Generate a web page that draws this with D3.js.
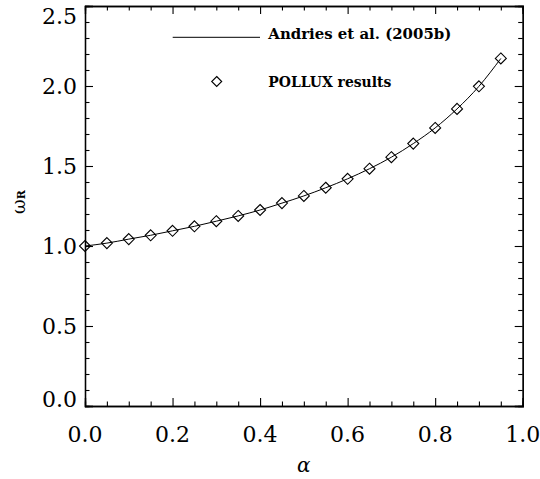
<!DOCTYPE html>
<html>
<head>
<meta charset="utf-8">
<script src="https://cdn.jsdelivr.net/npm/d3@7"></script>
<style>
  body { margin: 0; background: #fff; }
  svg { display: block; }
  .tick-label { font-family: "DejaVu Serif", serif; font-size: 22px; fill: #000; }
  .legend-text { font-family: "DejaVu Serif", serif; font-size: 14px; font-weight: bold; fill: #000; }
</style>
</head>
<body>
<svg id="chart"></svg>
<script>
/* ---------- Data ---------- */
const alphaValues = [0.00, 0.05, 0.10, 0.15, 0.20, 0.25, 0.30, 0.35, 0.40, 0.45,
                     0.50, 0.55, 0.60, 0.65, 0.70, 0.75, 0.80, 0.85, 0.90, 0.95];
const polluxOmega = [1.000, 1.018, 1.043, 1.067, 1.095, 1.123, 1.155, 1.188, 1.225, 1.268,
                     1.313, 1.364, 1.420, 1.483, 1.555, 1.640, 1.738, 1.857, 1.998, 2.172];
const andriesOmega = polluxOmega.slice();
const xTicks = [0, 0.2, 0.4, 0.6, 0.8, 1.0];
const yTicks = [0, 0.5, 1.0, 1.5, 2.0, 2.5];
const legendLabels = ["Andries et al. (2005b)", "POLLUX results"];

/* ---------- Layout ---------- */
const W = 540, H = 479;
const plot = {left: 85, right: 522.7, top: 6, bottom: 406};

const svg = d3.select("#chart").attr("width", W).attr("height", H);
svg.append("rect").attr("width", W).attr("height", H).attr("fill", "#fff");

const x = d3.scaleLinear().domain([0, 1]).range([plot.left, plot.right]);
const y = d3.scaleLinear().domain([0, 2.5]).range([plot.bottom, plot.top]);

const xMinor = d3.range(0, 21).map(i => i * 0.05).filter(v => !xTicks.some(t => Math.abs(t - v) < 1e-6));
const yMinor = d3.range(0, 26).map(i => i * 0.1).filter(v => !yTicks.some(t => Math.abs(t - v) < 1e-6));

// draws one side of the box: major + minor ticks pointing inward
function side(axisFn, transform, scale, majors, minors) {
    const g = svg.append("g").attr("transform", transform);
    g.append("g").call(axisFn(scale).tickValues(minors).tickSize(-4.5).tickFormat(""));
    g.append("g").call(axisFn(scale).tickValues(majors).tickSize(-8).tickFormat(""));
    g.selectAll("path.domain").attr("stroke", "#000").attr("stroke-width", 1.3);
    g.selectAll(".tick line").attr("stroke", "#000").attr("stroke-width", 1.1);
    return g;
}

side(d3.axisBottom, `translate(0,${plot.bottom})`, x, xTicks, xMinor);
side(d3.axisTop, `translate(0,${plot.top})`, x, xTicks, xMinor);
side(d3.axisLeft, `translate(${plot.left},0)`, y, yTicks, yMinor);
side(d3.axisRight, `translate(${plot.right},0)`, y, yTicks, yMinor);

// tick labels
svg.append("g").selectAll("text")
    .data(xTicks)
    .join("text")
    .attr("class", "tick-label")
    .attr("x", d => x(d))
    .attr("y", 442)
    .attr("text-anchor", "middle")
    .text(d3.format(".1f"));

// edge labels are kept inside the box height, like the original
svg.append("g").selectAll("text")
    .data(yTicks)
    .join("text")
    .attr("class", "tick-label")
    .attr("x", plot.left - 8)
    .attr("y", d => Math.min(Math.max(y(d), plot.top + 10), plot.bottom - 7) + 8)
    .attr("text-anchor", "end")
    .text(d3.format(".1f"));

// axis titles
svg.append("text")
    .attr("x", (plot.left + plot.right) / 2)
    .attr("y", 472)
    .attr("text-anchor", "middle")
    .attr("font-family", "DejaVu Serif, serif")
    .attr("font-style", "italic")
    .attr("font-size", 20)
    .text("α");

const yTitle = svg.append("text")
    .attr("transform", "translate(25,202) rotate(-90)")
    .attr("text-anchor", "middle")
    .attr("font-family", "DejaVu Serif, serif")
    .attr("font-size", 18);
yTitle.append("tspan").text("ω");
yTitle.append("tspan").attr("font-size", 11).attr("font-weight", "bold").text("R");

/* ---------- Series ---------- */
const lineData = alphaValues.map((a, i) => ({a, w: andriesOmega[i]}));
const pointData = alphaValues.map((a, i) => ({a, w: polluxOmega[i]}));

svg.append("path")
    .datum(lineData)
    .attr("fill", "none")
    .attr("stroke", "#000")
    .attr("stroke-width", 1)
    .attr("d", d3.line().x(d => x(d.a)).y(d => y(d.w)).curve(d3.curveMonotoneX));

const diamond = (cx, cy, r) => `M${cx},${cy - r}L${cx + r},${cy}L${cx},${cy + r}L${cx - r},${cy}Z`;

svg.append("g").selectAll("path")
    .data(pointData)
    .join("path")
    .attr("d", d => diamond(x(d.a), y(d.w), 5.5))
    .attr("fill", "none")
    .attr("stroke", "#000")
    .attr("stroke-width", 1.1);

/* ---------- Legend ---------- */
const legend = svg.append("g");
legend.append("line")
    .attr("x1", 172.7).attr("x2", 260).attr("y1", 37.3).attr("y2", 37.3)
    .attr("stroke", "#000").attr("stroke-width", 1);
legend.append("path")
    .attr("d", diamond(216.7, 81.5, 5))
    .attr("fill", "none").attr("stroke", "#000").attr("stroke-width", 1.1);
legend.selectAll("text")
    .data(legendLabels)
    .join("text")
    .attr("class", "legend-text")
    .attr("x", 268.3)
    .attr("y", (d, i) => i === 0 ? 38.5 : 86.5)
    .attr("textLength", (d, i) => i === 0 ? 183 : 123)
    .attr("lengthAdjust", "spacingAndGlyphs")
    .text(d => d);
</script>
</body>
</html>
